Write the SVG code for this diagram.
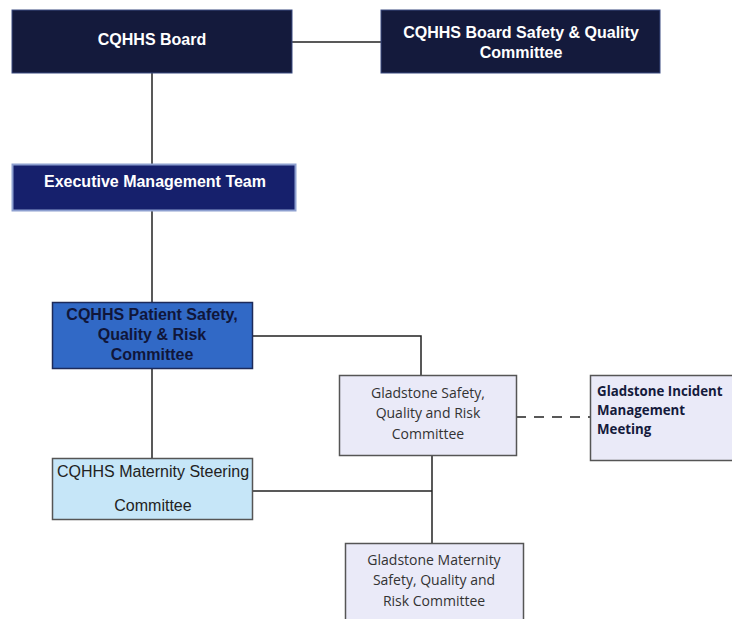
<svg xmlns="http://www.w3.org/2000/svg" width="732" height="619" viewBox="0 0 732 619">
<style>
.t{font-family:"Liberation Sans",Arial,sans-serif;text-anchor:middle}
.w{fill:#ffffff;font-weight:bold;font-size:16px}
.d{fill:#10163a;font-weight:bold;font-size:16px}
.r{fill:#222;font-size:16px}
.c{font-family:"Open Sans","Liberation Sans",sans-serif;font-size:14px;fill:#333;text-anchor:middle}
.cb{font-family:"Open Sans","Liberation Sans",sans-serif;font-size:13.3px;fill:#141a3c;font-weight:bold}
.ln{stroke:#222;stroke-width:1.5;fill:none}
</style>
<rect width="732" height="619" fill="#ffffff"/>
<g id="connectors">
<line class="ln" x1="292" y1="42" x2="381" y2="42"/>
<line class="ln" x1="152" y1="73" x2="152" y2="164"/>
<line class="ln" x1="152" y1="211" x2="152" y2="302"/>
<polyline class="ln" points="252,336 421,336 421,375"/>
<line class="ln" x1="152" y1="369" x2="152" y2="458"/>
<line class="ln" x1="516" y1="417" x2="590" y2="417" stroke-dasharray="10,8"/>
<line class="ln" x1="252" y1="491" x2="432" y2="491"/>
<line class="ln" x1="432" y1="455" x2="432" y2="543"/>
</g>
<g id="board">
<rect x="12" y="10" width="280" height="63" fill="#141a3c" stroke="#3a4a80" stroke-width="1"/>
<text class="t w" x="152" y="45">CQHHS Board</text>
</g>
<g id="board-sq">
<rect x="381" y="10" width="279" height="63" fill="#141a3c" stroke="#3a4a80" stroke-width="1"/>
<text class="t w" x="521" y="38">CQHHS Board Safety &amp; Quality</text>
<text class="t w" x="521" y="58">Committee</text>
</g>
<g id="emt">
<rect x="12.5" y="164.5" width="283" height="46" fill="#16206c" stroke="#8ea0d0" stroke-width="2"/>
<text class="t w" x="155" y="187">Executive Management Team</text>
</g>
<g id="psqr">
<rect x="52.5" y="302.5" width="200" height="66" fill="#3169c6" stroke="#1c2a5a" stroke-width="1.5"/>
<text class="t d" x="152" y="320">CQHHS Patient Safety,</text>
<text class="t d" x="152" y="340">Quality &amp; Risk</text>
<text class="t d" x="152" y="360">Committee</text>
</g>
<g id="gsqr">
<rect x="339.5" y="375.5" width="177" height="80" fill="#eaeaf8" stroke="#555" stroke-width="1.5"/>
<text class="c" x="428" y="398">Gladstone Safety,</text>
<text class="c" x="428" y="418">Quality and Risk</text>
<text class="c" x="428" y="439">Committee</text>
</g>
<g id="incident">
<rect x="590.5" y="375.5" width="150" height="85" fill="#eaeaf8" stroke="#555" stroke-width="1.5"/>
<text class="cb" x="597" y="396">Gladstone Incident</text>
<text class="cb" x="597" y="415">Management</text>
<text class="cb" x="597" y="434">Meeting</text>
</g>
<g id="msc">
<rect x="52.5" y="458.5" width="200" height="61" fill="#c6e6f8" stroke="#555" stroke-width="1.5"/>
<text class="t r" x="153" y="477">CQHHS Maternity Steering</text>
<text class="t r" x="153" y="511">Committee</text>
</g>
<g id="gmsqr">
<rect x="345.5" y="543.5" width="178" height="80" fill="#eaeaf8" stroke="#555" stroke-width="1.5"/>
<text class="c" x="434" y="565">Gladstone Maternity</text>
<text class="c" x="434" y="585">Safety, Quality and</text>
<text class="c" x="434" y="606">Risk Committee</text>
</g>
</svg>
